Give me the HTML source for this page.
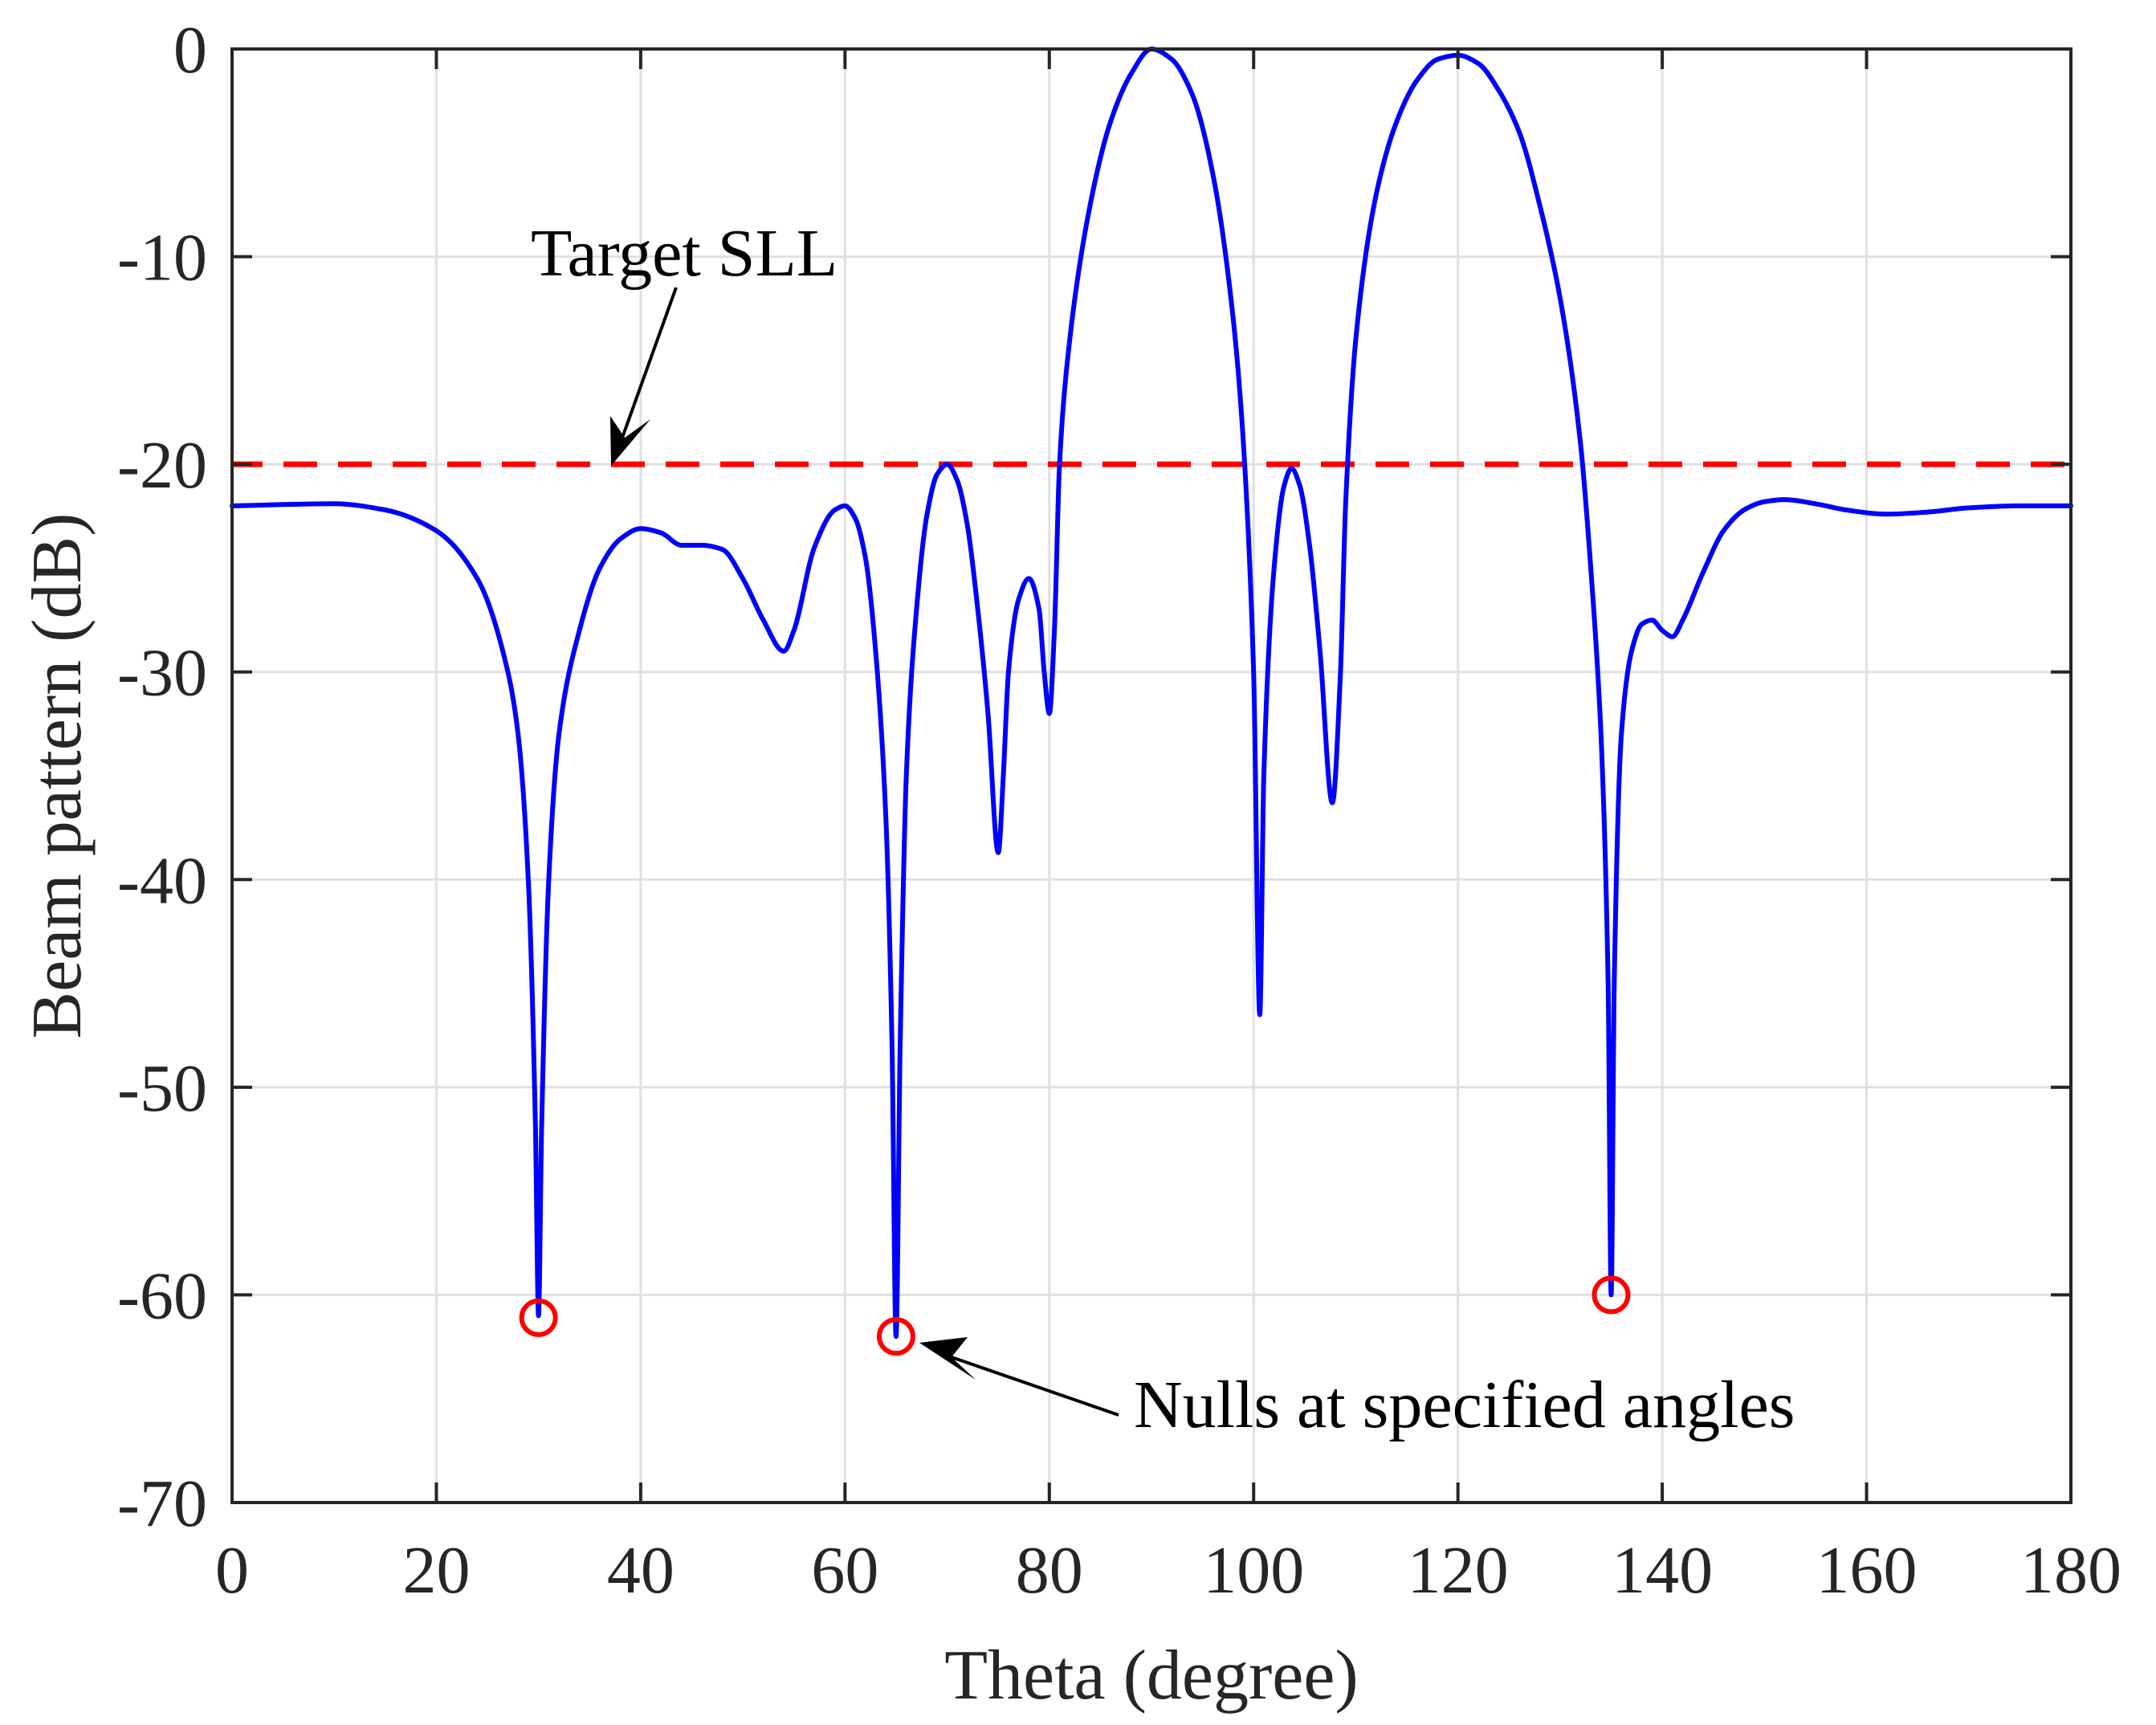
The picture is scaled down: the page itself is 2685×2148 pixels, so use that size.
<!DOCTYPE html>
<html><head><meta charset="utf-8"><style>
html,body{margin:0;padding:0;background:#fff;}
svg{display:block;font-family:"Liberation Serif",serif;}
</style></head><body>
<svg id="chart" width="2685" height="2148" viewBox="0 0 2685 2148" xmlns="http://www.w3.org/2000/svg">
<rect x="0" y="0" width="2685" height="2148" fill="#fff"/>
<g id="grid"></g>
<g id="sll"></g>
<g id="series"></g>
<g id="nulls"></g>
<g id="axes"></g>
<g id="ann">
  <text x="661" y="343" font-size="84" fill="#000">Target SLL</text>
  <line x1="842" y1="358" x2="775" y2="545" stroke="#000" stroke-width="4"/>
  <polygon points="761,580 760,518 778,545 810,522" fill="#000"/>
  <text x="1412" y="1777" font-size="84" fill="#000">Nulls at specified angles</text>
  <line x1="1393" y1="1762" x2="1185" y2="1690" stroke="#000" stroke-width="4"/>
  <polygon points="1145,1672 1205,1665 1185,1690 1215,1718" fill="#000"/>
</g>
<text x="1434" y="2115" font-size="88" text-anchor="middle" fill="#262626">Theta (degree)</text>
<text transform="translate(100,966) rotate(-90)" x="0" y="0" font-size="88" text-anchor="middle" fill="#262626">Beam pattern (dB)</text>
</svg>
<script>
const xTicks = [0,20,40,60,80,100,120,140,160,180];
const yTicks = [0,-10,-20,-30,-40,-50,-60,-70];
const targetSLL = -20;
const thetaDeg = [0,10,15,20,24,27,28,29,29.7,30,30.3,31,32,34,36,38,40,42,44,46,48,50,52,54,55,57,59,60,61,62,63,64,64.6,65,65.4,66,67,68,69,70,71,72,73,74,75,75.5,76,77,78,79,79.5,80,80.5,81,82,84,86,88,90,92,94,96,98,99,100,100.6,101,102,103,103.7,104.5,105.5,106.5,107.7,108.5,109,110,112,114,116,118,120,122,124,126,128,130,132,133,134,134.7,135,135.3,136,137,138,139,140,141,142,144,146,148,150,152,155,158,162,166,170,175,180];
const patternDb = [-22,-21.9,-22.2,-23.2,-25.5,-30,-33,-40,-52,-61,-52,-40,-33,-28,-25,-23.6,-23.1,-23.3,-23.9,-23.9,-24.1,-25.5,-27.5,-29,-28,-24,-22.2,-22,-22.6,-24.5,-29,-37,-48,-62,-48,-35,-27,-22.5,-20.5,-20,-20.8,-23,-27,-32,-38.7,-35,-30,-26.5,-25.5,-27,-30,-32,-28,-20,-14,-7.5,-3.5,-1.2,0,-0.5,-2.2,-6,-13,-19,-30,-46.5,-35,-25,-21,-20.2,-21,-24,-29,-36.3,-30,-22,-14,-7,-3.5,-1.5,-0.5,-0.3,-0.7,-2,-4,-7.5,-12,-19,-25,-33,-45,-60,-45,-33,-29,-27.7,-27.5,-28,-28.3,-27.5,-25.2,-23.2,-22.2,-21.8,-21.7,-21.9,-22.2,-22.4,-22.3,-22.1,-22,-22];
const nullAngles = [30,65,135];
const nullDb = [-61.1,-62,-60];

const X0=289,X1=2579,Y0=61,Y1=1871;
const xs=v=>X0+(v-0)/180*(X1-X0);
const ys=v=>Y0+(0-v)/70*(Y1-Y0);
const NS="http://www.w3.org/2000/svg";
function mk(tag,attrs,parent){const e=document.createElementNS(NS,tag);for(const k in attrs)e.setAttribute(k,attrs[k]);parent.appendChild(e);return e;}
const grid=document.getElementById('grid'),axes=document.getElementById('axes');
xTicks.forEach(t=>{
  if(t>0&&t<180){const g=mk('line',{x1:xs(t),x2:xs(t),y1:Y0,y2:Y1,stroke:'#e0e0e0','stroke-width':3},grid);
  
  }
  const a=mk('line',{x1:xs(t),x2:xs(t),y1:Y1,y2:Y1-25,stroke:'#262626','stroke-width':4},axes);
  
  
  const b=mk('line',{x1:xs(t),x2:xs(t),y1:Y0,y2:Y0+25,stroke:'#262626','stroke-width':4},axes);
  
  
  const l=mk('text',{x:xs(t),y:1983,'font-size':84,'text-anchor':'middle',fill:'#262626'},axes);
  l.textContent=t;
  
  
});
yTicks.forEach(t=>{
  if(t<0&&t>-70){const g=mk('line',{x1:X0,x2:X1,y1:ys(t),y2:ys(t),stroke:'#e0e0e0','stroke-width':3},grid);
  
  }
  const a=mk('line',{x1:X0,x2:X0+25,y1:ys(t),y2:ys(t),stroke:'#262626','stroke-width':4},axes);
  
  
  const b=mk('line',{x1:X1,x2:X1-25,y1:ys(t),y2:ys(t),stroke:'#262626','stroke-width':4},axes);
  
  
  const l=mk('text',{x:258,y:ys(t)+29,'font-size':84,'text-anchor':'end',fill:'#262626'},axes);
  l.textContent=t;
  
  
});
const frame=mk('rect',{x:X0,y:Y0,width:X1-X0,height:Y1-Y0,fill:'none',stroke:'#262626','stroke-width':4},axes);



const sl=mk('line',{x1:X0,x2:X1,y1:ys(targetSLL),y2:ys(targetSLL),stroke:'#ff0000','stroke-width':7,'stroke-dasharray':'42 26','stroke-dashoffset':4},document.getElementById('sll'));



// monotone cubic (Fritsch-Carlson) path through the data points
function monotonePath(xv,yv){
  const n=xv.length,px=xv.map(xs),py=yv.map(ys);
  const dx=[],m=[],t=new Array(n);
  for(let i=0;i<n-1;i++){dx[i]=px[i+1]-px[i];m[i]=(py[i+1]-py[i])/dx[i];}
  t[0]=m[0];t[n-1]=m[n-2];
  for(let i=1;i<n-1;i++){
    if(m[i-1]*m[i]<=0)t[i]=0;
    else{const w1=2*dx[i]+dx[i-1],w2=dx[i]+2*dx[i-1];t[i]=(w1+w2)/(w1/m[i-1]+w2/m[i]);}
  }
  let d='M'+px[0].toFixed(1)+' '+py[0].toFixed(1);
  for(let i=0;i<n-1;i++){
    const h=dx[i]/3;
    d+=' C'+(px[i]+h).toFixed(1)+' '+(py[i]+t[i]*h).toFixed(1)+' '+(px[i+1]-h).toFixed(1)+' '+(py[i+1]-t[i+1]*h).toFixed(1)+' '+px[i+1].toFixed(1)+' '+py[i+1].toFixed(1);
  }
  return d;
}
const p=mk('path',{d:monotonePath(thetaDeg,patternDb),fill:'none',stroke:'#0000ff','stroke-width':6,'stroke-linejoin':'round','stroke-linecap':'round'},document.getElementById('series'));



nullAngles.forEach((a,i)=>{
  const c=mk('circle',{cx:xs(a),cy:ys(nullDb[i]),r:21,fill:'none',stroke:'#ff0000','stroke-width':6},document.getElementById('nulls'));
  
  
});
</script>
</body></html>
